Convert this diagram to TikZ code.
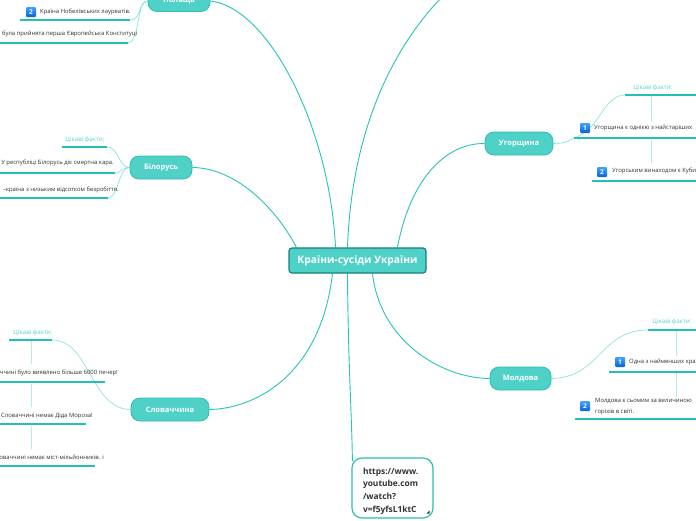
\documentclass[tikz,border=0pt]{standalone}
\usepackage{fontspec}
\setmainfont{Open Sans}
\usepackage{xcolor}
\usetikzlibrary{positioning, calc, backgrounds}

\definecolor{branchfill}{HTML}{4FD1C8}
\definecolor{branchline}{HTML}{2DBDB3}
\definecolor{centerline}{HTML}{17807A}
\definecolor{mainteal}{HTML}{2AC3BA}
\definecolor{twigteal}{HTML}{8EE3DE}
\definecolor{stemteal}{HTML}{B4ECE9}
\definecolor{ulineteal}{HTML}{22C1B7}
\definecolor{headteal}{HTML}{5AD2CA}
\definecolor{factgrey}{HTML}{333333}
\definecolor{badgetop}{HTML}{3FA4FF}
\definecolor{badgebottom}{HTML}{0A62D9}

\begin{document}
\begin{tikzpicture}[
        x=1pt, y=-1pt,
        hubbox/.style={rectangle, rounded corners=3pt, draw=centerline, line width=1.2pt, fill=branchfill, text=white, font=\fontsize{10.3}{11}\selectfont\bfseries, minimum width=137pt, minimum height=25pt, inner sep=0pt},
        country/.style={rectangle, rounded corners=9pt, draw=branchline, line width=0.8pt, fill=branchfill, text=white, font=\fontsize{7.5}{9}\selectfont\bfseries, minimum height=23pt, inner sep=0pt},
        fact/.style={inner sep=0pt, text=factgrey, font=\fontsize{5.9}{7}\selectfont},
        facthead/.style={inner sep=0pt, text=headteal, font=\fontsize{6.2}{7}\selectfont},
        badge/.style={rectangle, rounded corners=1pt, minimum size=10pt, inner sep=0pt, top color=badgetop, bottom color=badgebottom, text=white, font=\fontsize{6.5}{7}\selectfont\bfseries},
        urlbox/.style={rectangle, rounded corners=10pt, draw=branchline, line width=1.2pt, fill=white, minimum width=81pt, minimum height=60pt, inner sep=0pt},
        urltext/.style={text=factgrey, font=\fontsize{8.4}{12.6}\selectfont\bfseries, align=left, text width=59pt, inner sep=0pt},
        link/.style={draw=mainteal, line width=0.9pt},
        twig/.style={draw=twigteal, line width=0.7pt},
        stem/.style={draw=stemteal, line width=1pt},
        uline/.style={draw=ulineteal, line width=1.3pt}
    ]
        \useasboundingbox (0,0) rectangle (696,520);
        \clip (0,0) rectangle (696,520);

        % Centre and countries
        \node[hubbox] (hub) at (357.5,260.5) {Країни-сусіди України};
        \node[country, minimum width=62pt, minimum height=21pt] (pl) at (179,1) {Польща};
        \node[country, minimum width=62pt] (by) at (161,167.5) {Білорусь};
        \node[country, minimum width=68pt] (hu) at (519,143.5) {Угорщина};
        \node[country, minimum width=61pt] (md) at (520.5,378.5) {Молдова};
        \node[country, minimum width=78pt] (sk) at (170,409.5) {Словаччина};
        \node[urlbox] (yt) at (392.5,488) {};
        \node[urltext] (ytlink) at ($(yt.center)+(0,3)$) {https://www.\\youtube.com\\/watch?\\v=f5yfsL1ktC};
        \fill[factgrey] ($(yt.south east)+(-4,-8)$) -- ($(yt.south east)+(-4,-5)$) -- ($(yt.south east)+(-7,-5)$) -- cycle;
        \coordinate (offtop) at (442,-3);

        % Poland facts
        \node[badge] (pb2) at (31,12) {2};
        \node[fact, anchor=west] (p1) at (40,12) {Країна Нобелівських лауреатів.};
        \node[fact, anchor=west] (p2) at (2,34) {була прийнята перша Європейська Конституці};
        \coordinate (p1r) at (130,20);
        \coordinate (p2r) at (128,43);

        % Belarus facts
        \node[facthead] (bh) at (85,140) {Цікаві факти:};
        \node[fact, anchor=east] (b1) at (114,163) {У республіці Білорусь діє смертна кара.};
        \node[fact, anchor=east] (b2) at (119,190) {–країна з низьким відсотком безробіття.};
        \coordinate (bhr) at (107,147);
        \coordinate (b1r) at (115,173);
        \coordinate (b2r) at (108,198);

        % Hungary facts
        \node[facthead] (hh) at (653,88) {Цікаві факти:};
        \node[badge] (hb1) at (585,128) {1};
        \node[fact, anchor=west] (h1) at (594,128) {Угорщина є однією з найстаріших};
        \node[badge] (hb2) at (602,172) {2};
        \node[fact, anchor=west] (h2) at (612,171) {Угорським винаходом є Кубик};
        \coordinate (hhl) at (625,95);
        \coordinate (h1l) at (574,138);

        % Moldova facts
        \node[facthead] (mh) at (672,322) {Цікаві факти:};
        \node[badge] (mb1) at (620,362) {1};
        \node[fact, anchor=west] (m1) at (629,362) {Одна з найменших країн};
        \node[badge] (mb2) at (585,406) {2};
        \node[fact, anchor=west, align=left, font=\fontsize{5.9}{11}\selectfont] (m2) at (595,406.5) {Молдова є сьомим за величиною\\горіхів в світі.};
        \coordinate (mhl) at (648,330);

        % Slovakia facts
        \node[facthead] (sh) at (33,333) {Цікаві факти:};
        \node[fact, anchor=east] (s1) at (118,373) {ччині було виявлено більше 6000 печер!};
        \node[fact, anchor=east] (s2) at (93,416) {Словаччині немає Діда Мороза!};
        \node[fact, anchor=east] (s3) at (104,457) {оваччині немає міст-мільйонників. і};
        \coordinate (shr) at (52,340);

        % Underlines
        \foreach \xa/\xb/\yy in {20/130/20, 0/128/43, 62/107/147, 0/115/173, 0/108/198,
                625/700/95, 574/700/138, 592/700/181,
                648/700/330, 609/700/372, 575/700/419,
                9/52/340, 0/105/382, 0/86/424, 0/95/466}
            \draw[uline] (\xa,\yy) -- (\xb,\yy);

        % Tree stems
        \foreach \xx/\ya/\yb in {651/96/122, 651/140/163, 676/331/356, 676/373/397,
                31/341/364, 31/384/407, 31/426/449}
            \draw[stem] (\xx,\ya) -- (\xx,\yb);

        \begin{scope}[on background layer]
            \fill[white] (0,0) rectangle (696,520);
            % Links from the centre
            \draw[link] ($(hub.north)+(-22,0)$) .. controls (330,130) and (270,8) .. (pl.east);
            \draw[link] ($(hub.north)+(-10,0)$) .. controls (352,120) and (400,40) .. (offtop);
            \draw[link] ($(hub.north west)+(8,0)$) .. controls (280,215) and (240,168) .. (by.east);
            \draw[link] ($(hub.north)+(40,0)$) .. controls (410,180) and (445,143) .. (hu.west);
            \draw[link] ($(hub.south)+(15,0)$) .. controls (380,340) and (440,378) .. (md.west);
            \draw[link] ($(hub.south)+(-25,0)$) .. controls (320,380) and (250,409) .. (sk.east);
            \draw[link] ($(hub.south)+(-10,0)$) .. controls (348,360) and (352,420) .. ($(yt.north west)+(1,4)$);

            % Links to facts
            \draw[twig] (pl.west) .. controls (138,1) and (142,20) .. (p1r);
            \draw[twig] (pl.west) .. controls (136,1) and (140,43) .. (p2r);
            \draw[twig] (by.west) .. controls (118,167) and (119,147) .. (bhr);
            \draw[twig] (by.west) .. controls (122,167) and (121,173) .. (b1r);
            \draw[twig] (by.west) .. controls (118,167) and (119,198) .. (b2r);
            \draw[twig] (hu.east) .. controls (565,143) .. (h1l) .. controls (600,130) and (603,95) .. (hhl);
            \draw[twig] (md.east) .. controls (600,378) and (600,330) .. (mhl);
            \draw[twig] (sk.west) .. controls (90,409) and (90,340) .. (shr);
        \end{scope}
    \end{tikzpicture}
\end{document}
